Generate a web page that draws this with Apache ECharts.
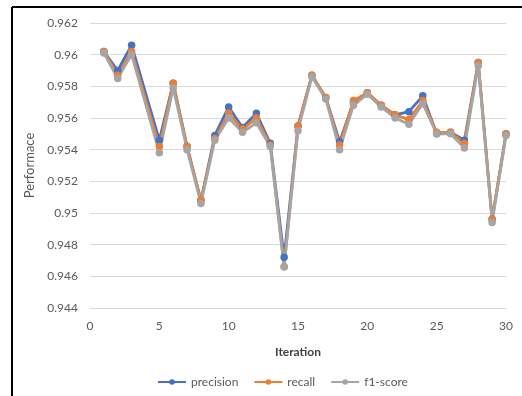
<!DOCTYPE html>
<html>
<head>
<meta charset="utf-8">
<script src="https://cdn.jsdelivr.net/npm/echarts@6/dist/echarts.min.js"></script>
<style>
html,body{margin:0;padding:0;background:#fff;}
#c{width:522px;height:396px;}
</style>
</head>
<body>
<div id="c"></div>
<script>
const iterations = [1,2,3,5,6,7,8,9,10,11,12,13,14,15,16,17,18,19,20,21,22,23,24,25,26,27,28,29,30];
const precision = [0.9602,0.9590,0.9606,0.9546,0.9582,0.9542,0.9508,0.9549,0.9567,0.9554,0.9563,0.9544,0.9472,0.9555,0.9587,0.9573,0.9545,0.9570,0.9576,0.9568,0.9562,0.9564,0.9574,0.9550,0.9551,0.9546,0.9595,0.9496,0.9550];
const recall =    [0.9602,0.9587,0.9602,0.9542,0.9582,0.9542,0.9508,0.9547,0.9563,0.9553,0.9560,0.9543,0.9466,0.9555,0.9587,0.9573,0.9543,0.9571,0.9576,0.9568,0.9562,0.9559,0.9571,0.9551,0.9551,0.9544,0.9595,0.9496,0.9550];
const f1score =   [0.9601,0.9585,0.9600,0.9538,0.9579,0.9540,0.9506,0.9546,0.9560,0.9551,0.9557,0.9542,0.9466,0.9552,0.9586,0.9572,0.9540,0.9568,0.9575,0.9567,0.9560,0.9556,0.9569,0.9550,0.9550,0.9541,0.9593,0.9494,0.9549];
const seriesNames = ['precision','recall','f1-score'];
const colors = ['#4472C4','#ED7D31','#A5A5A5'];

const font = 'Lato, "Open Sans", sans-serif';
const pair = (arr) => iterations.map((x,i)=>[x,arr[i]]);
const chart = echarts.init(document.getElementById('c'), null, {renderer:'canvas'});
const mk = (name, data, color) => ({
  name, type:'line', data: pair(data),
  symbol:'circle', symbolSize:7.5, showSymbol:true,
  lineStyle:{color, width:2.75},
  itemStyle:{color},
  emphasis:{disabled:true},
  animation:false
});
chart.setOption({
  animation:false,
  textStyle:{fontFamily:font},
  grid:{left:90, right:16, top:23, bottom:88, containLabel:false},
  xAxis:{
    type:'value', min:0, max:30, interval:5,
    name:'Iteration', nameLocation:'middle', nameGap:38,
    nameTextStyle:{fontFamily:font, fontSize:12, fontWeight:'bold', color:'#404040'},
    axisLine:{show:true, lineStyle:{color:'#D9D9D9', width:1}},
    axisTick:{show:false},
    splitLine:{show:false},
    axisLabel:{fontFamily:font, fontSize:12, color:'#595959', margin:12}
  },
  yAxis:{
    type:'value', min:0.944, max:0.962, interval:0.002,
    name:'Performace', nameLocation:'middle', nameGap:44, nameRotate:90,
    nameTextStyle:{fontFamily:font, fontSize:13, color:'#595959'},
    axisLine:{show:false}, axisTick:{show:false},
    splitLine:{show:true, lineStyle:{color:'#D9D9D9', width:1}},
    axisLabel:{fontFamily:font, fontSize:12, color:'#595959', margin:12,
      formatter:(v)=>String(parseFloat(v.toFixed(3)))}
  },
  legend:{
    data:seriesNames, left:152, top:371, itemWidth:28, itemHeight:7, itemGap:15,
    textStyle:{fontFamily:font, fontSize:12, color:'#595959'}
  },
  series:[
    mk(seriesNames[0], precision, colors[0]),
    mk(seriesNames[1], recall, colors[1]),
    mk(seriesNames[2], f1score, colors[2])
  ],
  graphic:[
    {type:'line', shape:{x1:12, y1:7, x2:522, y2:7}, style:{stroke:'#000', lineWidth:2}, silent:true},
    {type:'line', shape:{x1:12, y1:7, x2:12, y2:396}, style:{stroke:'#000', lineWidth:2}, silent:true}
  ]
});
</script>
</body>
</html>
